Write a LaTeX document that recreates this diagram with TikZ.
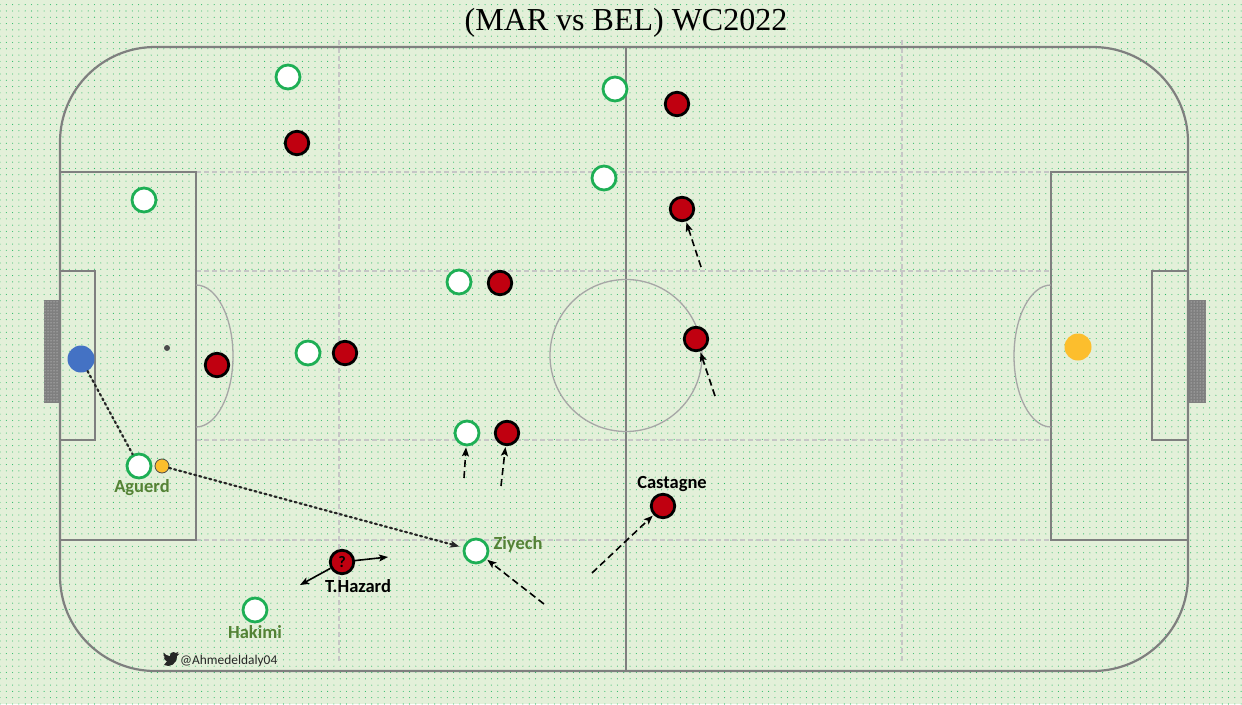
\documentclass[tikz,border=0pt]{standalone}
\usepackage{fontspec}
\setmainfont{Liberation Serif}
\newfontfamily\lblfont{Carlito}
\usetikzlibrary{arrows.meta,patterns.meta}
\definecolor{bgc}{RGB}{227,240,217}
\definecolor{dotc}{RGB}{40,185,100}
\definecolor{linec}{RGB}{127,127,127}
\definecolor{dashc}{RGB}{198,198,198}
\definecolor{arcc}{RGB}{166,166,166}
\definecolor{margreen}{RGB}{30,175,85}
\definecolor{belred}{RGB}{192,0,16}
\definecolor{lblgreen}{RGB}{84,130,53}
\definecolor{gkblue}{RGB}{68,114,196}
\definecolor{ballc}{RGB}{252,190,45}
\tikzset{
  mar/.style={circle,draw=margreen,fill=white,line width=2.8pt,minimum size=24pt,inner sep=0pt},
  bel/.style={circle,draw=black,fill=belred,line width=2.8pt,minimum size=23.5pt,inner sep=0pt},
  pline/.style={draw=linec,line width=1.3pt},
  dline/.style={draw=dashc,line width=1.1pt,dash pattern=on 5pt off 3pt},
  runarrow/.style={draw=black,line width=1.6pt,dash pattern=on 7pt off 4pt,-{Stealth[length=9pt,width=7pt,inset=2pt]},shorten >=1pt},
  passarrow/.style={draw=black!85,line width=2.2pt,dash pattern=on 2pt off 3.2pt,line cap=round},
  moveline/.style={draw=black,line width=1.6pt,-{Stealth[length=9pt,width=7pt,inset=2pt]}},
  greenlbl/.style={font=\lblfont\bfseries\fontsize{18.5}{18.5}\selectfont,text=lblgreen,inner sep=0pt},
  blacklbl/.style={font=\lblfont\bfseries\fontsize{18.5}{18.5}\selectfont,text=black,inner sep=0pt},
}
\begin{document}
\begin{tikzpicture}[x=1pt,y=-1pt]
\useasboundingbox (0,0) rectangle (1242,704);
% background
\fill[bgc] (0,0) rectangle (1242,704);
\fill[pattern={Dots[distance=6.3pt,radius=0.55pt]},pattern color=dotc] (0,0) rectangle (1242,704);
% title
\node[font=\fontsize{32}{32}\selectfont,inner sep=0pt] (title) at (626,23) {(MAR vs BEL) WC2022};
% dashed zone lines
\draw[dline] (339,40) -- (339,663);
\draw[dline] (902,40) -- (902,663);
\foreach \yy in {172,271,440,540} \draw[dline] (196,\yy) -- (1051,\yy);
% goals
\fill[linec] (44,300) rectangle (60,403);
\fill[pattern={Dots[distance=3pt,radius=0.5pt]},pattern color=white!80!linec] (44,300) rectangle (60,403);
\fill[linec] (1188,300) rectangle (1206,403);
\fill[pattern={Dots[distance=3pt,radius=0.5pt]},pattern color=white!80!linec] (1188,300) rectangle (1206,403);
% pitch
\draw[draw=linec,line width=2.2pt,rounded corners=95pt] (60,47) rectangle (1188,671);
\draw[pline] (60,172) rectangle (196,540);
\draw[pline] (60,271) rectangle (95,440);
\draw[pline] (1051,172) rectangle (1188,540);
\draw[pline] (1152,271) rectangle (1188,440);
\draw[draw=linec,line width=1.2pt] (626,47) -- (626,671);
\draw[draw=arcc,line width=1.3pt] (626,355.5) circle[radius=76];
\draw[draw=arcc,line width=1.3pt] (196,285) arc[start angle=-90,end angle=90,x radius=37,y radius=71];
\draw[draw=arcc,line width=1.3pt] (1051,285) arc[start angle=-90,end angle=-270,x radius=37,y radius=71];
\fill[black!70] (167,348) circle[radius=3];
% keepers and balls
\node[circle,fill=gkblue,minimum size=27pt,inner sep=0pt] (gk) at (81,359) {};
\node[circle,fill=ballc,minimum size=27pt,inner sep=0pt] (ball2) at (1078,347) {};
% Morocco
\node[mar] (w1) at (288,77) {};
\node[mar] (w2) at (615,89) {};
\node[mar] (w3) at (604,178) {};
\node[mar] (w4) at (144,200) {};
\node[mar] (w5) at (459,282) {};
\node[mar] (w6) at (308,353) {};
\node[mar] (w7) at (467,433) {};
\node[mar] (aguerd) at (139,466) {};
\node[mar] (ziyech) at (476,551) {};
\node[mar] (hakimi) at (255,610) {};
% Belgium
\node[bel] (r1) at (677,104) {};
\node[bel] (r2) at (297,143) {};
\node[bel] (r3) at (682,209) {};
\node[bel] (r4) at (500,283) {};
\node[bel] (r5) at (345,353) {};
\node[bel] (r6) at (217,365) {};
\node[bel] (r7) at (696,339) {};
\node[bel] (r8) at (507,433) {};
\node[bel] (castagne) at (663,506) {};
\node[bel,font=\lblfont\bfseries\fontsize{16}{16}\selectfont] (hazard) at (342,562) {?};
% ball
\node[circle,fill=ballc,draw=black!70,line width=0.8pt,minimum size=14pt,inner sep=0pt] (ball) at (162,466) {};
% labels
\node[greenlbl] (lagu) at (142,488) {Aguerd};
\node[greenlbl] (lziy) at (518,544) {Ziyech};
\node[greenlbl] (lhak) at (255,632) {Hakimi};
\node[blacklbl] (lhaz) at (358,586) {T.Hazard};
\node[blacklbl] (lcas) at (672,484) {Castagne};
% passes
\draw[passarrow] (gk) -- (aguerd);
\draw[passarrow,-{Stealth[length=9pt,width=7pt,inset=2pt]},shorten >=4pt] (ball) -- (ziyech);
% runs
\coordinate (s1) at (544,604);
\coordinate (s2) at (592,573);
\coordinate (s3) at (464,478);
\coordinate (s4) at (501,486);
\coordinate (s5) at (701,267);
\coordinate (s6) at (715,396);
\coordinate (h1) at (388,557);
\coordinate (h2) at (300,585);
\draw[runarrow] (s1) -- (ziyech);
\draw[runarrow] (s2) -- (castagne);
\draw[runarrow] (s3) -- (w7);
\draw[runarrow] (s4) -- (r8);
\draw[runarrow] (s5) -- (r3);
\draw[runarrow] (s6) -- (r7);
\draw[moveline] (hazard) -- (h1);
\draw[moveline] (hazard) -- (h2);
% watermark
\fill[black!85] (164,665) .. controls (170,668) and (177,664) .. (177,656) -- (179.5,653.5) -- (177,654.3) -- (178.5,651.8) -- (175.8,653) .. controls (173.5,651) and (169.5,652.5) .. (170,656.2) .. controls (167,656) and (165,654.3) .. (163.6,652.5) .. controls (162.6,655) and (164,657) .. (165.5,657.6) .. controls (164.8,657.8) and (164.2,657.6) .. (163.8,657.4) .. controls (164,659.5) and (165.5,660.8) .. (167,661.2) .. controls (166,662.5) and (165,663.2) .. (164,665) -- cycle;
\node[font=\lblfont\fontsize{13.4}{13.4}\selectfont,text=black!85,anchor=west,inner sep=0pt] (tw) at (180,660.5) {@Ahmedeldaly04};
\end{tikzpicture}
\end{document}
